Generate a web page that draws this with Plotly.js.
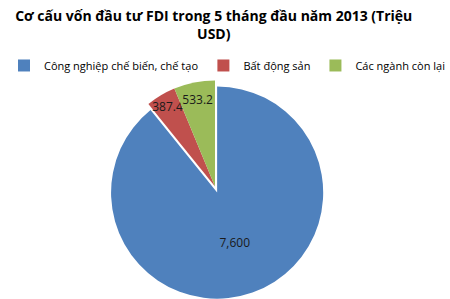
<!DOCTYPE html>
<html>
<head>
<meta charset="utf-8">
<script src="https://cdn.plot.ly/plotly-3.0.1.min.js"></script>
<style>html,body{margin:0;padding:0;background:#fff;}#chart{width:450px;height:299px;}</style>
</head>
<body>
<div id="chart"></div>
<script>
var categories = ["Công nghiệp chế biến, chế tạo", "Bất động sản", "Các ngành còn lại"];
var values = [7600, 387.4, 533.2];
var labelFormats = ["%{value:,.0f}", "%{value:.1f}", "%{value:.1f}"];
var colors = ["#4F81BD", "#C0504D", "#9BBB59"];
var pulls = [0.06, 0, 0];

var trace = {
  type: "pie",
  labels: categories,
  values: values,
  sort: false,
  direction: "clockwise",
  rotation: 0,
  pull: pulls,
  marker: {colors: colors, line: {width: 0}},
  texttemplate: labelFormats,
  textposition: "inside",
  insidetextorientation: "horizontal",
  textfont: {family: "Open Sans, sans-serif", size: 12, color: "#1a1a1a"},
  hoverinfo: "label+value",
  domain: {x: [0.2278, 0.7278], y: [0, 0.752]}
};

var layout = {
  width: 450, height: 299,
  margin: {l: 0, r: 0, t: 0, b: 0},
  paper_bgcolor: "#ffffff",
  title: {
    text: "<b>Cơ cấu vốn đầu tư FDI trong 5 tháng đầu năm 2013 (Triệu<br>USD)</b>",
    font: {family: "Open Sans, sans-serif", size: 14, color: "#000"},
    x: 0.475, xanchor: "center", y: 0.93, yanchor: "top"
  },
  showlegend: true,
  legend: {
    orientation: "h",
    x: 0.035, xanchor: "left", y: 0.781, yanchor: "middle",
    font: {family: "Open Sans, sans-serif", size: 11, color: "#000"},
    traceorder: "normal",
    itemwidth: 30
  },
  uniformtext: {minsize: 12, mode: "show"}
};

Plotly.newPlot("chart", [trace], layout, {displayModeBar: false, staticPlot: true});
</script>
</body>
</html>
